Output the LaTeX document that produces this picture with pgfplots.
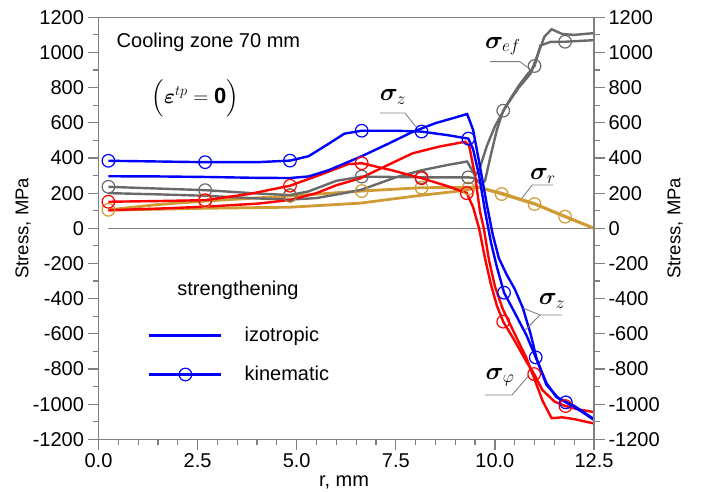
\documentclass[border=0pt]{standalone}
\usepackage{amsmath}
\usepackage{bm}
\usepackage{fontspec}
\setmainfont{Liberation Sans}
\usepackage{pgfplots}
\pgfplotsset{compat=1.18}
\definecolor{cgold}{RGB}{208,154,52}
\definecolor{cgray}{RGB}{105,105,105}
\definecolor{caxis}{RGB}{128,128,128}
\begin{document}
\begin{tikzpicture}
\pgfplotsset{
  common/.style={at={(98.5pt,51.7pt)}, anchor=south west, width=495.5pt, height=422pt, scale only axis,
    xmin=0, xmax=12.5, ymin=-1200, ymax=1200,
    ytick={-1200,-1000,-800,-600,-400,-200,0,200,400,600,800,1000,1200}, minor y tick num=1,
    tick align=outside, major tick length=11pt, minor tick length=6pt,
    axis line style={caxis, line width=1.2pt},
    tick style={caxis, line width=1.2pt},
    ticklabel style={font=\fontsize{20}{24}\selectfont, text=black},
    /pgf/number format/assume math mode=true,
    /pgf/number format/1000 sep={},
    label style={font=\fontsize{18.5}{22}\selectfont},
  },
  lin/.style={line width=2.4pt},
  mk/.style={only marks, mark=o, mark size=6.3pt, mark options={line width=1.2pt, fill=none}},
}
\begin{axis}[common,
  xtick={0,2.5,5,7.5,10,12.5}, minor x tick num=4, xtick pos=bottom, ytick pos=left,
  x tick label style={/pgf/number format/.cd, fixed, fixed zerofill, precision=1, /tikz/.cd},
  xlabel={r, mm}, ylabel={Stress, MPa},
  xlabel style={at={(axis description cs:0.4955,-0.101)}, anchor=center, font=\fontsize{20}{24}\selectfont},
  ylabel style={at={(axis description cs:-0.1524,0.5)}, anchor=center},
  legend style={at={(axis description cs:0.0999,0.1998)}, anchor=west, draw=none, fill=none,
    font=\fontsize{20}{24}\selectfont, row sep=19pt, inner sep=0pt, column sep=20pt},
  legend cell align=left,
  legend image code/.code={\draw[mark repeat=2,mark phase=2,#1] plot coordinates {(0pt,0pt) (36pt,0pt) (72pt,0pt)};},
]
% zero line
\addplot[caxis, line width=1pt, forget plot] coordinates {(0.25,0) (12.5,0)};
% gold (sigma_r)
\addplot[cgold, lin, line width=2.8pt, forget plot] coordinates {(0.25,103)(2.69,114)(4.83,120)(6.6,143)(8.15,188)(9.3,217)(9.55,235)(10.17,200)(11.0,140)(11.77,68)(12.5,0)};
\addplot[cgold, lin, line width=2.8pt, forget plot] coordinates {(0.25,105)(1.5,135)(2.69,155)(4.83,184)(6.64,212)(8.15,231)(9.33,232)(9.55,236)(10.17,195)(11.0,138)(11.77,66)(12.5,0)};
\addplot[cgold, mk, forget plot] coordinates {(0.25,105)(2.69,155)(4.83,184)(6.64,212)(8.15,231)(9.33,227)(10.17,195)(11.0,138)(11.77,66)};
% gray (sigma_ef)
\addplot[cgray, lin, forget plot] coordinates {(0.25,200)(1.5,193)(2.69,185)(4.0,170)(4.83,163)(5.5,172)(6.2,200)(6.64,220)(7.5,290)(8.15,330)(8.8,360)(9.3,380)(9.5,300)(9.6,330)(9.8,470)(10.0,580)(10.3,700)(10.6,800)(10.9,880)(11.1,1000)(11.25,1090)(11.43,1132)(11.7,1105)(12.0,1100)(12.5,1110)};
\addplot[cgray, lin, forget plot] coordinates {(0.25,236)(1.5,226)(2.69,217)(4.0,198)(4.83,189)(5.3,210)(6.0,270)(6.64,294)(8.15,290)(9.33,290)(9.5,285)(9.65,250)(9.75,270)(9.9,420)(10.05,560)(10.21,669)(10.4,740)(10.6,810)(10.8,870)(11.0,923)(11.15,1040)(11.4,1060)(11.77,1061)(12.5,1070)};
\addplot[cgray, mk, forget plot] coordinates {(0.25,236)(2.69,217)(4.83,189)(6.64,294)(8.15,290)(9.33,290)(10.21,669)(11.0,923)(11.77,1061)};
% red (sigma_phi)
\addplot[red, lin, forget plot] coordinates {(0.25,103)(1.5,112)(2.69,123)(4.0,140)(4.83,161)(5.5,200)(6.0,245)(6.6,284)(7.3,360)(7.93,427)(8.6,465)(9.25,492)(9.35,470)(9.5,300)(9.62,100)(9.72,0)(9.85,-180)(10.0,-330)(10.2,-460)(10.5,-600)(10.8,-740)(10.97,-840)(11.2,-980)(11.43,-1080)(11.7,-1075)(12.0,-1085)(12.5,-1110)};
\addplot[red, lin, forget plot] coordinates {(0.25,151)(1.5,155)(2.69,160)(3.8,195)(4.83,242)(5.6,305)(6.3,365)(6.64,370)(7.4,330)(8.15,285)(8.8,240)(9.29,200)(9.45,120)(9.6,0)(9.75,-170)(9.9,-320)(10.05,-440)(10.21,-531)(10.5,-640)(10.8,-760)(10.99,-829)(11.2,-920)(11.5,-985)(11.78,-1011)(12.1,-1030)(12.5,-1045)};
\addplot[red, mk, forget plot] coordinates {(0.25,151)(2.69,160)(4.83,242)(6.64,370)(8.15,285)(9.29,200)(10.21,-531)(10.99,-829)(11.78,-1011)};
% blue (sigma_z)
\addplot[blue, lin, forget plot] coordinates {(0.25,296)(1.5,295)(2.69,292)(4.0,287)(4.83,286)(5.3,295)(5.8,330)(6.2,368)(6.64,410)(7.3,480)(7.93,549)(8.5,598)(9.0,630)(9.3,650)(9.45,560)(9.6,380)(9.8,130)(9.95,-40)(10.1,-170)(10.3,-265)(10.5,-345)(10.7,-450)(10.9,-600)(11.05,-740)(11.3,-890)(11.6,-965)(12.0,-1010)(12.5,-1085)};
\addplot[blue, lin, forget plot] coordinates {(0.25,384)(1.5,380)(2.69,376)(4.0,376)(4.83,385)(5.3,410)(5.8,480)(6.2,538)(6.64,555)(7.5,555)(8.15,550)(8.8,530)(9.33,510)(9.45,450)(9.6,300)(9.75,100)(9.9,-80)(10.05,-220)(10.23,-366)(10.5,-480)(10.8,-610)(11.03,-734)(11.3,-880)(11.55,-960)(11.79,-990)(12.1,-1030)(12.5,-1090)};
\addplot[blue, mk, forget plot] coordinates {(0.25,384)(2.69,376)(4.83,385)(6.64,555)(8.15,550)(9.33,510)(10.23,-366)(11.03,-734)(11.79,-990)};
% legend
\addlegendimage{blue, line width=2.4pt}
\addlegendentry{izotropic}
\addlegendimage{blue, line width=2.4pt, mark=o, mark size=6.3pt, mark options={line width=1.2pt, fill=none}}
\addlegendentry{kinematic}
% annotations
\node[anchor=west, font=\fontsize{20}{24}\selectfont] at (axis cs:0.37,1060) {Cooling zone 70 mm};
\node[font=\fontsize{22}{26}\selectfont] at (axis cs:2.44,741) {$\Bigl(\bm{\varepsilon}^{tp}=\mathbf{0}\Bigr)$};
\node[font=\fontsize{20}{24}\selectfont] at (axis cs:3.52,-351) {strengthening};
\begin{scope}[font=\fontsize{27}{30}\selectfont]
\node at (axis cs:7.43,747) {$\bm{\sigma}_{z}$};
\node at (axis cs:10.2,1036) {$\bm{\sigma}_{ef}$};
\node at (axis cs:11.21,298) {$\bm{\sigma}_{r}$};
\node at (axis cs:11.44,-413) {$\bm{\sigma}_{z}$};
\node at (axis cs:10.13,-846) {$\bm{\sigma}_{\varphi}$};
\end{scope}
\begin{scope}[caxis, line width=0.9pt]
\draw (axis cs:7.10,656) -- (axis cs:7.73,656) -- (axis cs:8.03,571);
\draw (axis cs:9.88,948) -- (axis cs:10.63,948) -- (axis cs:10.89,904);
\draw (axis cs:11.47,246) -- (axis cs:10.94,246) -- (axis cs:10.68,171);
\draw (axis cs:11.69,-493) -- (axis cs:11.14,-493) -- (axis cs:10.72,-455);
\draw (axis cs:11.14,-493) -- (axis cs:10.76,-579);
\draw (axis cs:9.75,-948) -- (axis cs:10.43,-948) -- (axis cs:10.83,-844);
\end{scope}
\end{axis}
\begin{axis}[common, axis x line=none, axis y line*=right,
  ylabel={Stress, MPa},
  ylabel style={at={(axis description cs:1.1635,0.5)}, anchor=center},
]
\end{axis}
\pgfresetboundingbox
\path[use as bounding box] (0,0) rectangle (708pt,491pt);
\end{tikzpicture}
\end{document}
